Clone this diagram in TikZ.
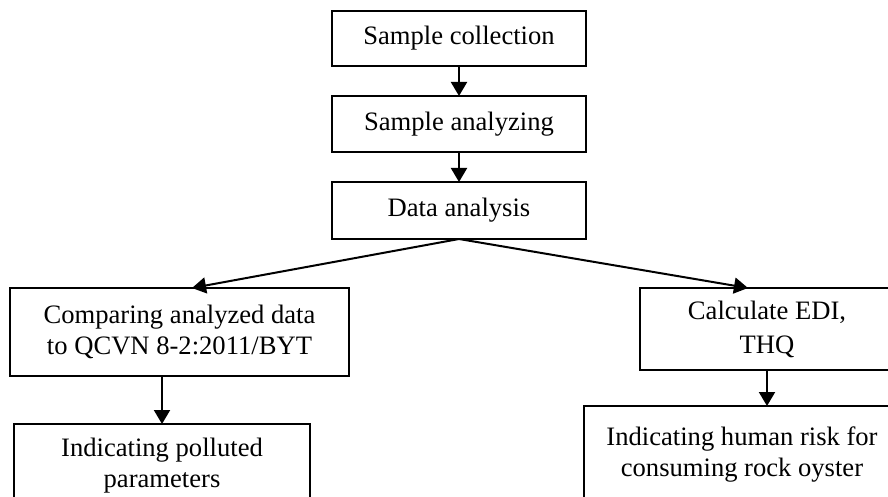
\documentclass[tikz,border=0pt]{standalone}
\usepackage{fontspec}
\setmainfont{Liberation Serif}
\usetikzlibrary{arrows.meta,calc}
\begin{document}
\begin{tikzpicture}[x=1pt,y=1pt,
  box/.style={draw, line width=2pt, inner sep=0pt, outer sep=0pt, align=center,
    font=\fontsize{26.6}{31}\selectfont},
  conn/.style={line width=2pt, -{Triangle[length=14pt,width=16pt]}}]
\useasboundingbox (0,0) rectangle (888,-497);
\clip (0,0) rectangle (888,-497);
\node[box, minimum width=254, minimum height=55] (b1) at (459,-38.5) {Sample collection};
\node[box, minimum width=254, minimum height=56] (b2) at (459,-124) {Sample analyzing};
\node[box, minimum width=254, minimum height=57] (b3) at (459,-210.5) {Data analysis};
\node[box, minimum width=339, minimum height=88] (L1) at (179.5,-332) {Comparing analyzed data\\to QCVN 8-2:2011/BYT};
\node[box, minimum width=254, minimum height=82, font=\fontsize{26.6}{34}\selectfont] (R1) at (767,-329) {Calculate EDI,\\THQ};
\node[box, minimum width=296, minimum height=84] (L2) at (162,-466) {Indicating polluted\\parameters};
\node[box, minimum width=316, minimum height=98] (R2) at (742,-455) {Indicating human risk for\\consuming rock oyster};
\draw[conn] (b1.south) -- (b2.north);
\draw[conn] (b2.south) -- (b3.north);
\draw[conn] (b3.south) -- ($(L1.north)+(12.5,0)$);
\draw[conn] (b3.south) -- ($(R1.north)+(-19,0)$);
\draw[conn] (L1.south -| L2.north) -- (L2.north);
\draw[conn] (R1.south) -- (R1.south |- R2.north);
\end{tikzpicture}
\end{document}
